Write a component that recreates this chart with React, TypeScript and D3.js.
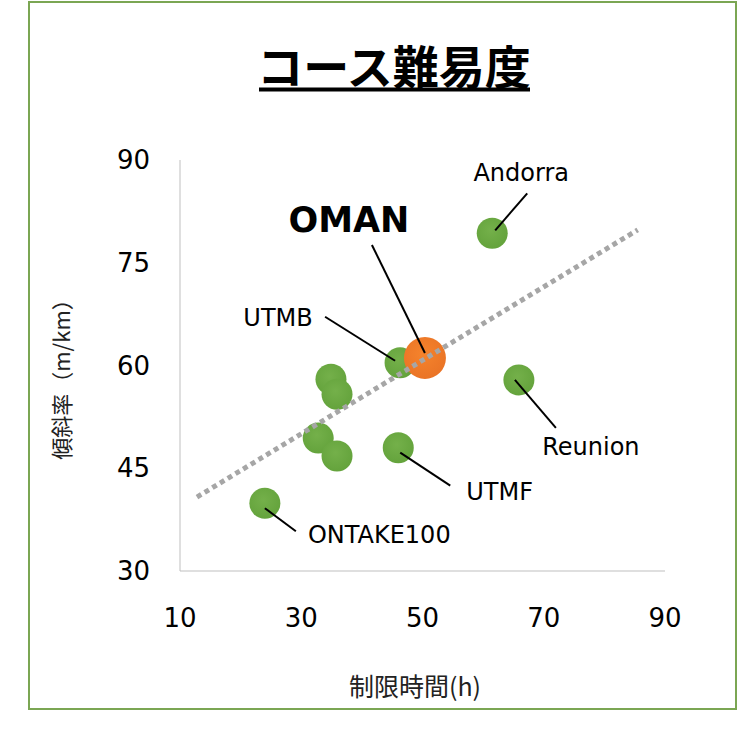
import { useEffect, useRef } from 'react';
import * as d3 from 'd3';

// Course data: time limit (h) vs gradient (m/km)
const NAMES = ['Andorra', 'Reunion', 'UTMB', 'A', 'B', 'C', 'D', 'UTMF', 'ONTAKE100', 'OMAN'];
const HOURS = [61.5, 65.9, 46.3, 34.9, 35.9, 32.8, 35.9, 46.0, 24.0, 50.4];
const SLOPES = [79.3, 57.9, 60.4, 58.0, 55.8, 49.4, 46.8, 48.0, 39.9, 61.1];

const X_TICKS = [10, 30, 50, 70, 90];
const Y_TICKS = [30, 45, 60, 75, 90];

const TREND_X = [12.8, 85.5];
const TREND_Y = [40.8, 79.8];

// label placement relative to each dot (layout only)
const LABEL_LAYOUT: Record<string, { l: [number, number, number, number]; t: [number, number]; anchor: string; bold?: boolean }> = {
  Andorra: { l: [3, -3, 35, -40], t: [29, -52], anchor: 'middle' },
  OMAN: { l: [0, -5, -53, -113], t: [-76, -126], anchor: 'middle', bold: true },
  UTMB: { l: [-5, -2, -75, -46], t: [-122, -37], anchor: 'middle' },
  UTMF: { l: [2, 5, 52, 38], t: [68, 52], anchor: 'start' },
  ONTAKE100: { l: [0, 5, 31, 28], t: [43, 40], anchor: 'start' },
  Reunion: { l: [-4, 0, 37, 48], t: [72, 75], anchor: 'middle' },
};

const FONT = "'DejaVu Sans', Verdana, sans-serif";
const CJK = "'Noto Sans CJK JP', sans-serif";

export default function App() {
  const svgRef = useRef<SVGSVGElement>(null);

  useEffect(() => {
    const el = svgRef.current;
    if (!el) return;
    const svg = d3.select(el);
    svg.selectAll('*').remove();

    const W = 740;
    const H = 729;
    svg.attr('width', W).attr('height', H);

    const x = d3.scaleLinear().domain([10, 90]).range([180, 665]);
    const y = d3.scaleLinear().domain([30, 90]).range([571, 160]);

    const defs = svg.append('defs');
    const mkGrad = (id: string, c1: string, c2: string) => {
      const gr = defs.append('radialGradient').attr('id', id).attr('cx', '45%').attr('cy', '40%').attr('r', '60%');
      gr.append('stop').attr('offset', '0%').attr('stop-color', c1);
      gr.append('stop').attr('offset', '100%').attr('stop-color', c2);
    };
    mkGrad('gGreen', '#74b04a', '#64a33c');
    mkGrad('gOrange', '#f5832c', '#ea7426');

    // frame
    svg.append('rect')
      .attr('x', 29).attr('y', 2).attr('width', 707).attr('height', 707)
      .attr('fill', '#fff').attr('stroke', '#7ba653').attr('stroke-width', 2);

    // title
    svg.append('text')
      .attr('x', 394).attr('y', 64)
      .attr('text-anchor', 'middle').attr('dominant-baseline', 'central')
      .attr('font-family', CJK).attr('font-weight', 'bold').attr('font-size', '46px')
      .attr('fill', '#000').text('コース難易度');
    svg.append('line')
      .attr('x1', 259).attr('x2', 530).attr('y1', 89.5).attr('y2', 89.5)
      .attr('stroke', '#000').attr('stroke-width', 4);

    // axes lines
    svg.append('line').attr('x1', x(10)).attr('x2', x(10)).attr('y1', y(90)).attr('y2', y(30))
      .attr('stroke', '#bfbfbf').attr('stroke-width', 1);
    svg.append('line').attr('x1', x(10)).attr('x2', x(90)).attr('y1', y(30)).attr('y2', y(30))
      .attr('stroke', '#bfbfbf').attr('stroke-width', 1);

    // tick labels
    svg.selectAll('.xt').data(X_TICKS).join('text').attr('class', 'xt')
      .attr('x', (d) => x(d)).attr('y', 627)
      .attr('text-anchor', 'middle').attr('font-family', FONT).attr('font-size', '26px').attr('fill', '#000')
      .text((d) => d);
    svg.selectAll('.yt').data(Y_TICKS).join('text').attr('class', 'yt')
      .attr('x', 150).attr('y', (d) => y(d))
      .attr('text-anchor', 'end').attr('dominant-baseline', 'central')
      .attr('font-family', FONT).attr('font-size', '26px').attr('fill', '#000')
      .text((d) => d);

    // axis titles
    svg.append('text')
      .attr('x', 415).attr('y', 685)
      .attr('text-anchor', 'middle').attr('dominant-baseline', 'central')
      .attr('font-family', CJK).attr('font-size', '25px').attr('fill', '#222')
      .text('制限時間(h)');
    svg.append('text')
      .attr('transform', 'translate(60,374) rotate(-90)')
      .attr('text-anchor', 'middle').attr('dominant-baseline', 'central')
      .attr('font-family', CJK).attr('font-size', '22px').attr('fill', '#222')
      .text('傾斜率（m/km）');

    // dots
    const pts = NAMES.map((n, i) => ({ name: n, hx: HOURS[i], sy: SLOPES[i] }));
    svg.selectAll('.dot').data(pts).join('circle').attr('class', 'dot')
      .attr('cx', (d) => x(d.hx)).attr('cy', (d) => y(d.sy))
      .attr('r', (d) => (d.name === 'OMAN' ? 21 : 15.5))
      .attr('fill', (d) => (d.name === 'OMAN' ? 'url(#gOrange)' : 'url(#gGreen)'));

    // trend line
    svg.append('line')
      .attr('x1', x(TREND_X[0])).attr('y1', y(TREND_Y[0]))
      .attr('x2', x(TREND_X[1])).attr('y2', y(TREND_Y[1]))
      .attr('stroke', '#a6a6a6').attr('stroke-width', 5).attr('stroke-dasharray', '5,4');

    // labels + leader lines
    pts.filter((p) => LABEL_LAYOUT[p.name]).forEach((p) => {
      const L = LABEL_LAYOUT[p.name];
      const cx = x(p.hx);
      const cy = y(p.sy);
      svg.append('line')
        .attr('x1', cx + L.l[0]).attr('y1', cy + L.l[1])
        .attr('x2', cx + L.l[2]).attr('y2', cy + L.l[3])
        .attr('stroke', '#000').attr('stroke-width', 2);
      svg.append('text')
        .attr('x', cx + L.t[0]).attr('y', cy + L.t[1])
        .attr('text-anchor', L.anchor)
        .attr('font-family', FONT)
        .attr('font-size', L.bold ? '35px' : '24px')
        .attr('font-weight', L.bold ? 'bold' : 'normal')
        .attr('fill', '#000')
        .text(p.name);
    });
  }, []);

  return (
    <svg ref={svgRef} width={740} height={729} style={{ position: 'absolute', left: 0, top: 0, background: '#fff' }} />
  );
}
